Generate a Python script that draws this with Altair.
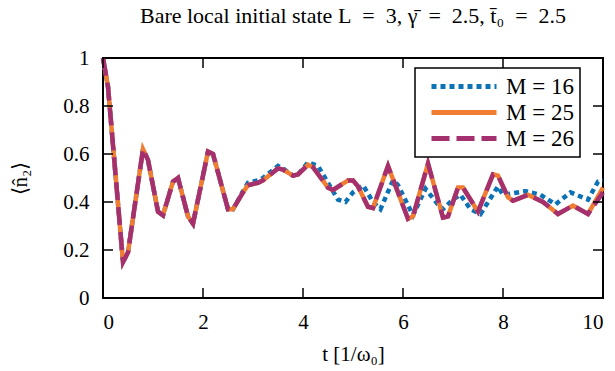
import altair as alt
import pandas as pd

# ---- data ----
series_names = ["M = 16", "M = 25", "M = 26"]

t_main = [0, 0.1, 0.4, 0.5, 0.8, 0.9, 1.1, 1.2, 1.4, 1.5, 1.7, 1.8, 2.1, 2.2,
          2.5, 2.6, 2.8, 2.9, 3.1, 3.2, 3.5, 3.6, 3.8, 3.9, 4.1, 4.2, 4.5, 4.6,
          4.9, 5.0, 5.1, 5.3, 5.4, 5.7, 6.1, 6.2, 6.5, 6.8, 6.9, 7.1, 7.2, 7.5,
          7.8, 7.9, 8.1, 8.2, 8.5, 8.8, 9.1, 9.4, 9.7, 10.0]
n_m25 = [1.0, 0.88, 0.15, 0.19, 0.62, 0.575, 0.36, 0.345, 0.485, 0.50, 0.34,
         0.31, 0.61, 0.60, 0.37, 0.37, 0.44, 0.47, 0.48, 0.49, 0.54, 0.535,
         0.51, 0.515, 0.555, 0.545, 0.46, 0.45, 0.49, 0.49, 0.465, 0.38, 0.375,
         0.55, 0.33, 0.34, 0.56, 0.335, 0.34, 0.46, 0.46, 0.36, 0.515, 0.51,
         0.42, 0.405, 0.43, 0.40, 0.35, 0.385, 0.35, 0.46]
n_m26 = [1.0, 0.88, 0.15, 0.19, 0.62, 0.575, 0.36, 0.345, 0.485, 0.50, 0.34,
         0.31, 0.61, 0.60, 0.37, 0.37, 0.44, 0.47, 0.48, 0.49, 0.54, 0.535,
         0.51, 0.515, 0.555, 0.545, 0.46, 0.45, 0.49, 0.49, 0.465, 0.38, 0.375,
         0.55, 0.33, 0.34, 0.56, 0.335, 0.34, 0.46, 0.46, 0.36, 0.515, 0.51,
         0.42, 0.405, 0.43, 0.40, 0.35, 0.385, 0.35, 0.44]

t_m16 = [0, 0.1, 0.4, 0.5, 0.8, 0.9, 1.1, 1.2, 1.4, 1.5, 1.7, 1.8, 2.1, 2.2,
         2.5, 2.6, 2.8, 2.9, 3.1, 3.2, 3.5, 3.6, 3.8, 3.9, 4.1, 4.3, 4.7, 4.85,
         5.0, 5.2, 5.4, 5.55, 5.8, 5.9, 6.2, 6.45, 6.7, 6.8, 7.0, 7.15, 7.35,
         7.55, 7.9, 8.0, 8.45, 8.75, 9.05, 9.35, 9.7, 9.9, 10.0]
n_m16 = [1.0, 0.88, 0.15, 0.19, 0.62, 0.575, 0.36, 0.345, 0.485, 0.50, 0.34,
         0.31, 0.61, 0.60, 0.37, 0.37, 0.445, 0.48, 0.49, 0.50, 0.55, 0.54,
         0.51, 0.515, 0.565, 0.55, 0.41, 0.40, 0.44, 0.47, 0.40, 0.37, 0.49,
         0.47, 0.345, 0.455, 0.39, 0.37, 0.41, 0.43, 0.37, 0.35, 0.465, 0.43,
         0.445, 0.43, 0.39, 0.44, 0.41, 0.485, 0.49]

x_ticks = [0, 2, 4, 6, 8, 10]
y_ticks = [0, 0.2, 0.4, 0.6, 0.8, 1.0]

colors = ["#0b72b6", "#f07d32", "#a5306f"]
dashes = [[5, 4], [1, 0], [18, 7]]

# ---- tables ----
frames = []
for name, ts, ns in [(series_names[0], t_m16, n_m16),
                     (series_names[1], t_main, n_m25),
                     (series_names[2], t_main, n_m26)]:
    frames.append(pd.DataFrame({"t": ts, "n": ns, "series": name}))
df = pd.concat(frames, ignore_index=True)

X0, X1 = 0, 10
Y0, Y1 = 0, 1
TX = 10 / 500 * (X1 - X0)   # 10 px tick length in data units (x)
TY = 10 / 240 * (Y1 - Y0)   # 10 px tick length in data units (y)

xs = alt.Scale(domain=[X0, X1], nice=False, zero=False)
ys = alt.Scale(domain=[Y0, Y1], nice=False, zero=False)
x_axis = alt.Axis(values=x_ticks, format="d", title="t [1/ω₀]")
y_axis = alt.Axis(values=y_ticks, format="~g", title="⟨n̂₂⟩")

color_scale = alt.Scale(domain=series_names, range=colors)
dash_scale = alt.Scale(domain=series_names, range=dashes)

layers = []
for i, name in enumerate(series_names):
    layers.append(
        alt.Chart(df).transform_filter(alt.datum.series == name)
        .mark_line(strokeWidth=4.5, strokeCap="butt", strokeJoin="miter")
        .encode(
            x=alt.X("t:Q", scale=xs, axis=x_axis),
            y=alt.Y("n:Q", scale=ys, axis=y_axis),
            color=alt.Color("series:N", scale=color_scale, legend=alt.Legend(title=None)),
            strokeDash=alt.StrokeDash("series:N", scale=dash_scale, legend=alt.Legend(title=None)),
        )
    )

xt = pd.DataFrame({"v": x_ticks})
yt = pd.DataFrame({"v": y_ticks})

tick_bottom = alt.Chart(xt).mark_rule(color="black", strokeWidth=1.5).encode(
    x=alt.X("v:Q", scale=xs, axis=x_axis),
    y=alt.YDatum(Y0, scale=ys, axis=y_axis), y2=alt.Y2Datum(Y0 + TY))
tick_top = alt.Chart(xt).mark_rule(color="black", strokeWidth=1.5).encode(
    x=alt.X("v:Q", scale=xs, axis=x_axis),
    y=alt.YDatum(Y1, scale=ys, axis=y_axis), y2=alt.Y2Datum(Y1 - TY))
tick_left = alt.Chart(yt).mark_rule(color="black", strokeWidth=1.5).encode(
    y=alt.Y("v:Q", scale=ys, axis=y_axis),
    x=alt.XDatum(X0, scale=xs, axis=x_axis), x2=alt.X2Datum(X0 + TX))
tick_right = alt.Chart(yt).mark_rule(color="black", strokeWidth=1.5).encode(
    y=alt.Y("v:Q", scale=ys, axis=y_axis),
    x=alt.XDatum(X1, scale=xs, axis=x_axis), x2=alt.X2Datum(X1 - TX))

chart = alt.layer(*layers, tick_bottom, tick_top, tick_left, tick_right).properties(
    width=500, height=240,
    title=alt.Title("Bare local initial state L\u2002=\u20023, γ̄\u2002=\u20022.5, t̄₀\u2002=\u20022.5"),
    autosize=alt.AutoSizeParams(type="none"),
    padding={"left": 103, "top": 58, "right": 12, "bottom": 73},
).configure_view(
    stroke="black", strokeWidth=2
).configure_axis(
    grid=False, domain=False, ticks=False,
    labelFont="Liberation Serif", labelFontSize=21, labelColor="black",
    titleFont="Liberation Serif", titleFontSize=21, titleColor="black",
    titleFontWeight="normal",
).configure_axisX(
    labelPadding=13, titlePadding=11,
).configure_axisY(
    labelPadding=14, titlePadding=32,
).configure_title(
    font="Liberation Serif", fontSize=22, fontWeight="normal", color="black",
    anchor="middle", offset=19,
).configure_legend(
    orient="none", legendX=312, legendY=10,
    fillColor="white", strokeColor="black", strokeWidth=1.5, cornerRadius=0,
    padding=6, symbolOffset=8, symbolType="stroke", symbolSize=4225,
    symbolStrokeWidth=5, clipHeight=25,
    labelFont="Liberation Serif", labelFontSize=23, labelColor="black",
    labelOffset=7, rowPadding=1,
)

chart.save("out.html", embed_options={"renderer": "svg", "actions": False})
